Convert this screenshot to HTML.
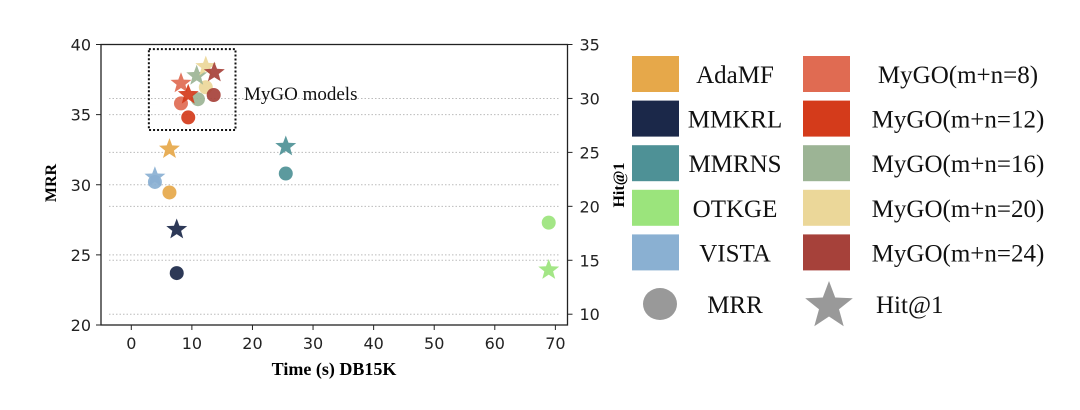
<!DOCTYPE html>
<html><head><meta charset="utf-8"><style>
body{margin:0;background:#fff;width:1080px;height:405px;overflow:hidden}
svg text{font-family:"DejaVu Sans",sans-serif}
svg text.serif{font-family:"Liberation Serif",serif}
</style></head><body>
<svg id="chart" width="1080" height="405" xmlns="http://www.w3.org/2000/svg"></svg>
<script>
const models=["AdaMF","MMKRL","MMRNS","OTKGE","VISTA","MyGO(m+n=8)","MyGO(m+n=12)","MyGO(m+n=16)","MyGO(m+n=20)","MyGO(m+n=24)"];
const colors=["#E6A84A","#1B2849","#4E9196","#9BE47C","#8AB0D2","#E06B52","#D43B1B","#9CB495","#EBD799","#A6413A"];
const timeVals=[6.3,7.5,25.5,68.9,3.9,8.2,9.4,11.0,12.3,13.6];
const hitTime=[6.3,7.5,25.5,68.9,3.9,8.2,9.4,10.8,12.3,13.7];
const mrrVals=[29.45,23.7,30.8,27.3,30.2,35.8,34.8,36.1,36.95,36.4];
const hitVals=[25.3,17.85,25.55,14.1,22.7,31.4,30.35,32.1,32.95,32.4];
const xTicks=[0,10,20,30,40,50,60,70];
const yLeftTicks=[20,25,30,35,40];
const yRightTicks=[10,15,20,25,30,35];

const L=101,R=567.5,T=44.5,B=325;
const X=v=>L+(v+5)/77*(R-L);
const YL=v=>B-(v-20)/20*(B-T);
const YR=v=>B-(v-9)/26*(B-T);
const svg=document.getElementById('chart');
const NS="http://www.w3.org/2000/svg";
function mk(tag,attrs,parent){const e=document.createElementNS(NS,tag);for(const k in attrs)e.setAttribute(k,attrs[k]);(parent||svg).appendChild(e);return e;}

yLeftTicks.forEach(v=>{if(v>20&&v<40){const g=mk('line',{x1:L+8,x2:R-8,y1:YL(v),y2:YL(v),stroke:'#bbb','stroke-width':1,'stroke-dasharray':'1.5 2'});

}});
yRightTicks.forEach(v=>{if(v<35){const g=mk('line',{x1:L+8,x2:R-8,y1:YR(v),y2:YR(v),stroke:'#bbb','stroke-width':1,'stroke-dasharray':'1.5 2'});

}});

const fr=mk('rect',{x:L,y:T,width:R-L,height:B-T,fill:'none',stroke:'#222','stroke-width':1.3});



xTicks.forEach(v=>{mk('line',{x1:X(v),x2:X(v),y1:B,y2:B+5,stroke:'#222'});
const t=mk('text',{x:X(v),y:B+24,'text-anchor':'middle','font-size':16,fill:'#222'});t.textContent=v;

});
yLeftTicks.forEach(v=>{mk('line',{x1:L-5,x2:L,y1:YL(v),y2:YL(v),stroke:'#222'});
const t=mk('text',{x:L-10,y:YL(v)+6,'text-anchor':'end','font-size':16,fill:'#222'});t.textContent=v;

});
yRightTicks.forEach(v=>{mk('line',{x1:R,x2:R+5,y1:YR(v),y2:YR(v),stroke:'#222'});
const t=mk('text',{x:R+12,y:YR(v)+6,'font-size':16,fill:'#222'});t.textContent=v;

});

let a=mk('text',{x:0,y:0,transform:'translate(56,183) rotate(-90)','text-anchor':'middle','font-size':16,'font-weight':'bold',class:'serif'});a.textContent='MRR';


a=mk('text',{x:0,y:0,transform:'translate(624,185) rotate(-90)','text-anchor':'middle','font-size':16,'font-weight':'bold',class:'serif'});a.textContent='Hit@1';


a=mk('text',{x:334,y:375,'text-anchor':'middle','font-size':18,'font-weight':'bold',class:'serif','xml:space':'preserve'});a.textContent='Time (s)  DB15K';



const bx=mk('rect',{x:X(2.9),y:YL(39.67),width:X(17.2)-X(2.9),height:YL(33.9)-YL(39.67),fill:'none',stroke:'#111','stroke-width':2,'stroke-dasharray':'2 2'});


a=mk('text',{x:244,y:100,'font-size':19,class:'serif',fill:'#111'});a.textContent='MyGO models';



function starPts(cx,cy,r){let p=[];for(let i=0;i<10;i++){const rr=i%2?r*0.42:r;const ang=-Math.PI/2+i*Math.PI/5;p.push((cx+rr*Math.cos(ang)).toFixed(1)+','+(cy+rr*Math.sin(ang)).toFixed(1));}return p.join(' ');}

models.forEach((m,i)=>{
const c=mk('circle',{cx:X(timeVals[i]),cy:YL(mrrVals[i]),r:7,fill:colors[i],'fill-opacity':0.92});


});
models.forEach((m,i)=>{
const s=mk('polygon',{points:starPts(X(hitTime[i]),YR(hitVals[i]),11),fill:colors[i],'fill-opacity':0.92});


});

models.forEach((m,i)=>{
const col=i<5?0:1,row=i%5;
const x=col?803:632,y=56+row*44.6;
const r=mk('rect',{x:x,y:y,width:47,height:36,fill:colors[i]});


const t=mk('text',{x:col?958:735,y:y+27,'text-anchor':'middle','font-size':25,class:'serif',fill:'#111'});t.textContent=m;


});
let lc=mk('ellipse',{cx:660,cy:304,rx:17,ry:16,fill:'#999'});


let lt=mk('text',{x:735,y:313,'text-anchor':'middle','font-size':25,class:'serif',fill:'#111'});lt.textContent='MRR';


let ls=mk('polygon',{points:starPts(829,306,25),fill:'#999'});


lt=mk('text',{x:876,y:313,'font-size':25,class:'serif',fill:'#111'});lt.textContent='Hit@1';


</script>
</body></html>
